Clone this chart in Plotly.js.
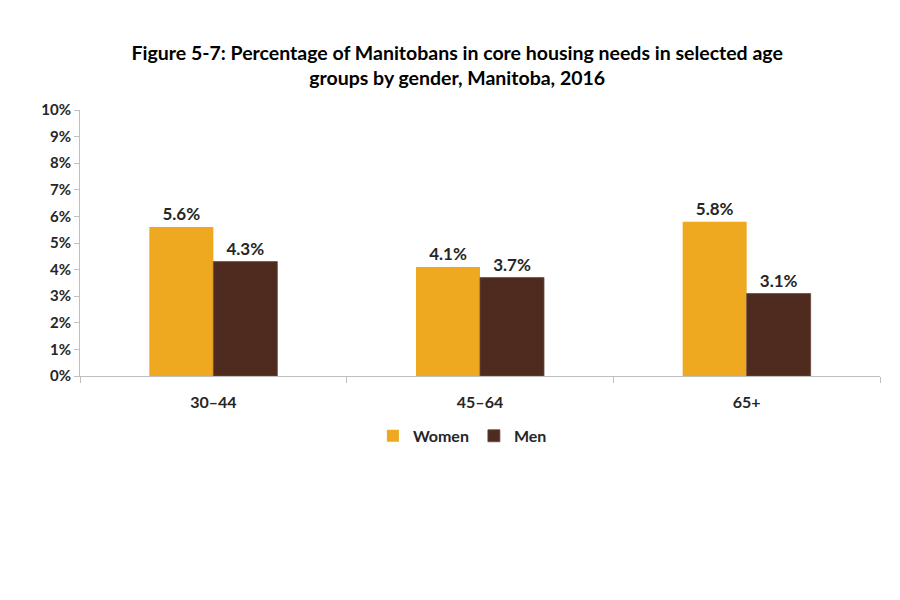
<!DOCTYPE html>
<html>
<head>
<meta charset="utf-8">
<script src="https://cdn.plot.ly/plotly-3.0.1.min.js"></script>
<style>html,body{margin:0;padding:0;background:#fff;}#chart{width:900px;height:600px;}</style>
</head>
<body>
<div id="chart"></div>
<script>
const categories = ["30–44", "45–64", "65+"];
const women = [0.056, 0.041, 0.058];
const men = [0.043, 0.037, 0.031];
const yTickVals = [0, 0.01, 0.02, 0.03, 0.04, 0.05, 0.06, 0.07, 0.08, 0.09, 0.10];
const yTickText = ["0%", "1%", "2%", "3%", "4%", "5%", "6%", "7%", "8%", "9%", "10%"];

const fontFam = "Lato, 'Open Sans', sans-serif";
const textFont = {family: fontFam, size: 17, color: "#262626", weight: 700};

const traces = [
  {type: "bar", name: "Women", x: categories, y: women,
   marker: {color: "#EFA920"},
   texttemplate: "%{y:.1%}", textposition: "outside", cliponaxis: false,
   textfont: textFont, hoverinfo: "skip"},
  {type: "bar", name: "Men", x: categories, y: men,
   marker: {color: "#4F2B1F", line: {color: "#6b4a3e", width: 0.8}},
   texttemplate: "%{y:.1%}", textposition: "outside", cliponaxis: false,
   textfont: textFont, hoverinfo: "skip"}
];

const layout = {
  width: 900, height: 600,
  margin: {l: 80, r: 20, t: 110, b: 224},
  paper_bgcolor: "#fff", plot_bgcolor: "#fff",
  barmode: "group", bargap: 0.52, bargroupgap: 0,
  font: {family: fontFam, color: "#262626"},
  title: {
    text: "<b>Figure 5-7: Percentage of Manitobans in core housing needs in selected age<br>groups by gender, Manitoba, 2016</b>",
    font: {family: fontFam, size: 19.5, color: "#000"},
    x: 0.508, xanchor: "center", y: 0.9, yanchor: "top"
  },
  xaxis: {
    type: "category", showgrid: false, showline: true, linecolor: "#bfbfbf", linewidth: 1,
    ticks: "outside", tickson: "boundaries", ticklen: 6, tickcolor: "#bfbfbf",
    ticklabelstandoff: 12,
    tickfont: {family: fontFam, size: 16, color: "#262626", weight: 700},
    zeroline: false
  },
  yaxis: {
    range: [0, 0.10], tickvals: yTickVals, ticktext: yTickText,
    showgrid: false, showline: true, linecolor: "#bfbfbf", linewidth: 1,
    ticks: "outside", ticklen: 5, tickcolor: "#bfbfbf",
    tickfont: {family: fontFam, size: 15, color: "#262626", weight: 700},
    zeroline: false
  },
  showlegend: true,
  legend: {
    orientation: "h", x: 0.478, xanchor: "center", y: -0.225, yanchor: "middle",
    font: {family: fontFam, size: 16, color: "#262626", weight: 700},
    itemwidth: 30, traceorder: "normal"
  }
};

Plotly.newPlot("chart", traces, layout, {displayModeBar: false, staticPlot: true});
</script>
</body>
</html>
